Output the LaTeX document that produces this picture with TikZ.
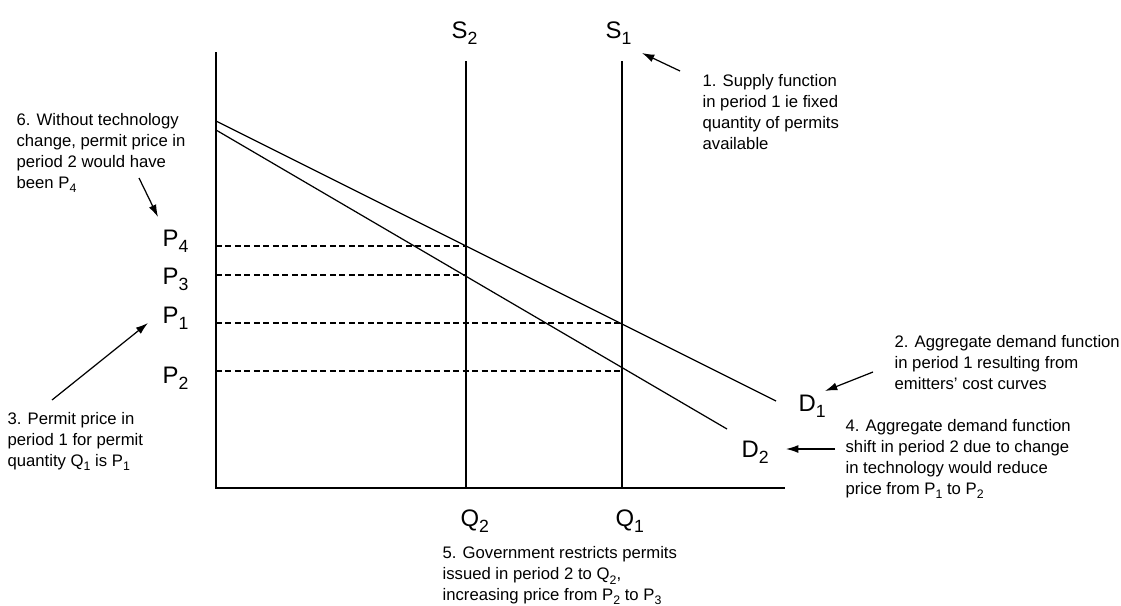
\documentclass[tikz,border=0pt]{standalone}
\usepackage{fontspec}
\setmainfont{Liberation Sans}
\usetikzlibrary{arrows.meta}
\newcommand{\lowidx}[1]{\raisebox{-.5ex}{\scalebox{.74}{#1}}}

\tikzset{
  note/.style={anchor=north west, inner sep=0pt, align=left, font=\fontsize{9.5}{11.9}\selectfont},
  axlabel/.style={anchor=base west, inner sep=0pt, font=\fontsize{13.6}{15}\selectfont},
  guide/.style={dash pattern=on 3.4pt off 2pt, line width=.6pt}
}

\begin{document}
\begin{tikzpicture}[x=0.02cm, y=-0.02cm, line width=.7pt, >={Latex[length=7pt,width=4.5pt]}]
            \useasboundingbox (0,0) rectangle (1121,605);
            % axes, supply and demand
            \draw (216,52)--(216,488)--(785,488);
            \draw (466,61)--(466,488);
            \draw (622,61)--(622,488);
            \draw (216,121)--(776,401);
            \draw (216,130)--(727,429);
            \draw[guide] (216,246)--(466,246);
            \draw[guide] (216,275)--(466,275);
            \draw[guide] (216,323)--(622,323);
            \draw[guide] (216,371)--(622,371);
            % curve and price labels
            \node[axlabel] (s2) at (451,38) {S\lowidx{2}};
            \node[axlabel] (s1) at (605,38) {S\lowidx{1}};
            \node[axlabel] (p4) at (162,246) {P\lowidx{4}};
            \node[axlabel] (p3) at (162,284) {P\lowidx{3}};
            \node[axlabel] (p1) at (162,323) {P\lowidx{1}};
            \node[axlabel] (p2) at (162,383) {P\lowidx{2}};
            \node[axlabel] (q2) at (460,526) {Q\lowidx{2}};
            \node[axlabel] (q1) at (615,526) {Q\lowidx{1}};
            \node[axlabel] (d1) at (798,411) {D\lowidx{1}};
            \node[axlabel] (d2) at (741,457) {D\lowidx{2}};
            % notes
            \node[note] (n1) at (702,74) {1. Supply function\\in period 1 ie fixed\\quantity of permits\\available};
            \node[note] (n2) at (894,335) {2. Aggregate demand function\\in period 1 resulting from\\emitters' cost curves};
            \node[note] (n3) at (7,412) {3. Permit price in\\period 1 for permit\\quantity Q\lowidx{1} is P\lowidx{1}};
            \node[note] (n4) at (845,419) {4. Aggregate demand function\\shift in period 2 due to change\\in technology would reduce\\price from P\lowidx{1} to P\lowidx{2}};
            \node[note] (n5) at (442,546) {5. Government restricts permits\\issued in period 2 to Q\lowidx{2},\\increasing price from P\lowidx{2} to P\lowidx{3}};
            \node[note] (n6) at (16,113) {6. Without technology\\change, permit price in\\period 2 would have\\been P\lowidx{4}};
            % pointers
            \coordinate (n1from) at (680,71);  \coordinate (n1to) at (642,53);
            \coordinate (n2from) at (873,372); \coordinate (n2to) at (825,391);
            \coordinate (n3from) at (52,400);  \coordinate (n3to) at (148,323);
            \coordinate (n4from) at (835,449); \coordinate (n4to) at (786,449);
            \coordinate (n6from) at (139,178); \coordinate (n6to) at (158,217);
            \draw[->] (n1from)--(n1to);
            \draw[->] (n2from)--(n2to);
            \draw[->] (n3from)--(n3to);
            \draw[->] (n4from)--(n4to);
            \draw[->] (n6from)--(n6to);
        \end{tikzpicture}
\end{document}
